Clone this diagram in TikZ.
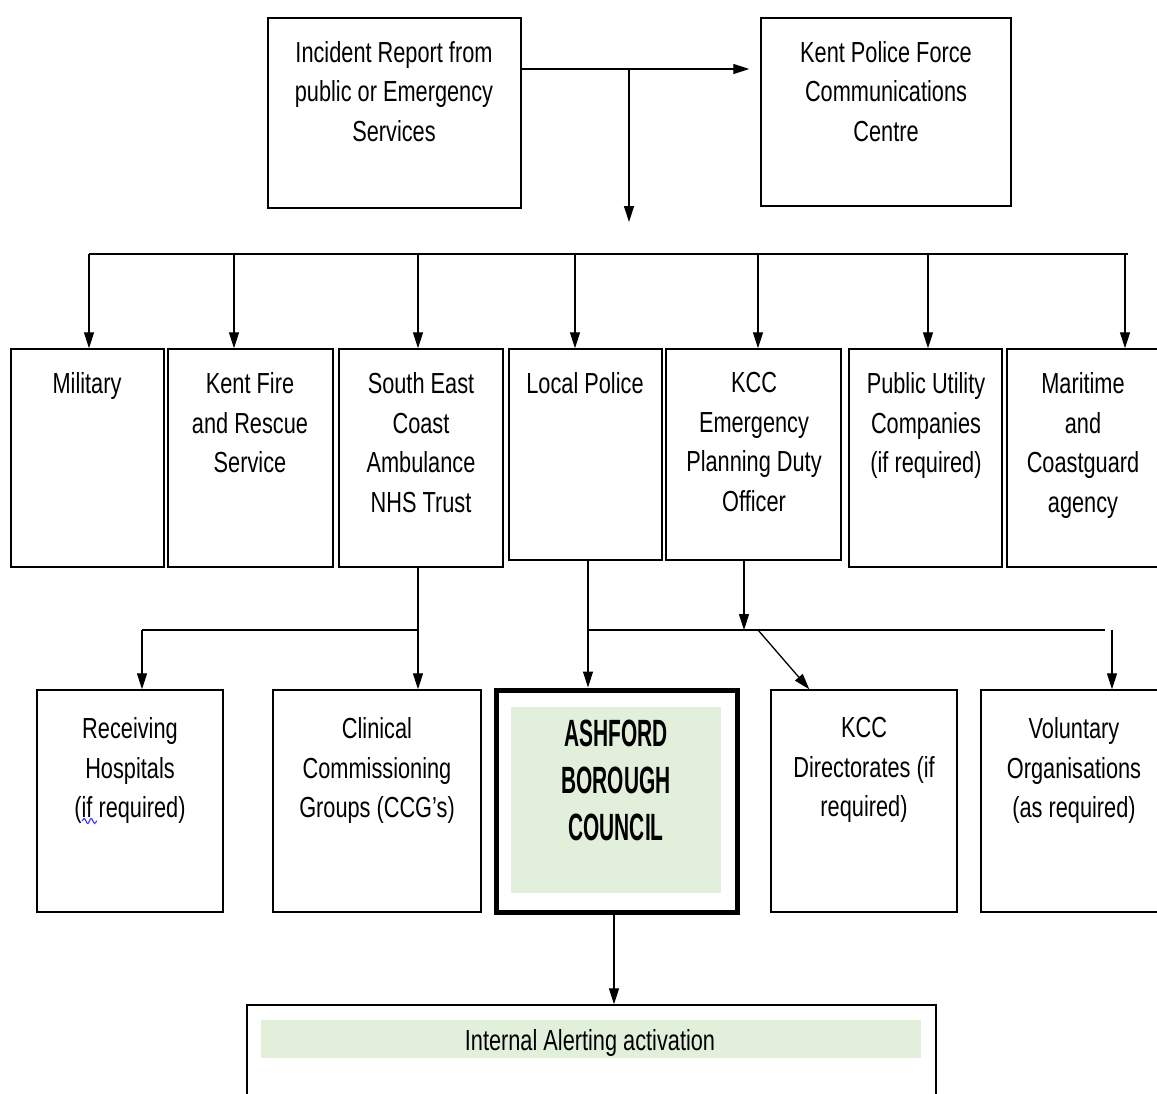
\documentclass[tikz,border=0pt]{standalone}
\usepackage{fontspec}
\setmainfont[FakeStretch=0.75]{Liberation Sans}
\newfontfamily\ashfont[FakeStretch=0.55]{Liberation Sans}
\usetikzlibrary{arrows.meta,decorations.pathmorphing,calc}
\definecolor{lightgreen}{HTML}{E2EFDA}
\begin{document}
\begin{tikzpicture}[x=1pt,y=-1pt,
  box/.style={draw, line width=1.4pt, inner sep=0pt},
  lbl/.style={anchor=north, align=center, font=\fontsize{29}{39.5}\selectfont, inner sep=0pt},
  arr/.style={line width=1.3pt, -{Triangle[length=16pt,width=10pt]}},
  ln/.style={line width=1.3pt}]
\useasboundingbox (0,0) rectangle (1157,1093);

% top row
\node[box, minimum width=253, minimum height=190] (inc) at (394.5,113) {};
\node[box, minimum width=250, minimum height=188] (kp) at (886,112) {};
\node[lbl] (tinc) at (394,41) {Incident Report from\\public or Emergency\\Services};
\node[lbl] (tkp) at (886,41) {Kent Police Force\\Communications\\Centre};

% second row
\node[box, minimum width=153, minimum height=218] (mil) at (87.5,458) {};
\node[box, minimum width=165, minimum height=218] (fire) at (250.5,458) {};
\node[box, minimum width=164, minimum height=218] (sec) at (421,458) {};
\node[box, minimum width=153, minimum height=211] (lp) at (585.5,454.5) {};
\node[box, minimum width=175, minimum height=211] (kcc) at (753.5,454.5) {};
\node[box, minimum width=153, minimum height=218] (util) at (925.5,458) {};
\node[box, minimum width=153, minimum height=218] (mar) at (1083.5,458) {};
\node[lbl] (tmil) at (87,372.5) {Military};
\node[lbl] (tfire) at (250,372.5) {Kent Fire\\and Rescue\\Service};
\node[lbl] (tsec) at (421,372.5) {South East\\Coast\\Ambulance\\NHS Trust};
\node[lbl] (tlp) at (585,372.5) {Local Police};
\node[lbl] (tkcc) at (754,372.5) {KCC\\Emergency\\Planning Duty\\Officer};
\node[lbl] (tutil) at (926,372.5) {Public Utility\\Companies\\(if required)};
\node[lbl] (tmar) at (1083,372.5) {Maritime\\and\\Coastguard\\agency};

% third row
\node[box, minimum width=186, minimum height=222] (recv) at (130,801) {};
\node[box, minimum width=208, minimum height=222] (clin) at (377,801) {};
\node[box, line width=5pt, minimum width=241, minimum height=222] (ash) at (616.5,801) {};
\node[fill=lightgreen, inner sep=0pt, minimum width=210, minimum height=186] (ashin) at (616,800) {};
\node[box, minimum width=186, minimum height=222] (kccd) at (864,801) {};
\node[box, minimum width=186, minimum height=222] (vol) at (1074,801) {};
\node[lbl] (trecv) at (130,717.5) {Receiving\\Hospitals\\(if required)};
\node[lbl] (tclin) at (377,717.5) {Clinical\\Commissioning\\Groups (CCG's)};
\node[lbl, font=\ashfont\bfseries\fontsize{38}{47}\selectfont] (tash) at (616,720) {ASHFORD\\BOROUGH\\COUNCIL};
\node[lbl] (tkccd) at (864,717.5) {KCC\\Directorates (if\\required)};
\node[lbl] (tvol) at (1074,717.5) {Voluntary\\Organisations\\(as required)};
\draw[blue!80, line width=1.1pt, decorate, decoration={snake, amplitude=2.5pt, segment length=7pt}] (82,821) -- (97,821);

% bottom
\node[box, minimum width=689, minimum height=105] (bot) at (591.5,1057.5) {};
\node[fill=lightgreen, inner sep=0pt, minimum width=660, minimum height=38] (botin) at (591,1039) {};
\node[lbl] (tbot) at (590,1029.5) {Internal Alerting activation};

% connectors top
\coordinate (j1) at (629,69);
\coordinate (j2) at (629,222);
\draw[arr, shorten >=11pt] (inc.east |- j1) -- (kp.west |- j1);
\draw[arr] (j1) -- (j2);

% bus
\coordinate (b1) at (89,254);
\coordinate (b2) at (234,254);
\coordinate (b3) at (418,254);
\coordinate (b4) at (575,254);
\coordinate (b5) at (758,254);
\coordinate (b6) at (928,254);
\coordinate (b7) at (1125,254);
\coordinate (bR) at (1128,254);
\draw[ln] (b1) -- (bR);
\draw[arr] (b1) -- (b1 |- mil.north);
\draw[arr] (b2) -- (b2 |- fire.north);
\draw[arr] (b3) -- (b3 |- sec.north);
\draw[arr] (b4) -- (b4 |- lp.north);
\draw[arr] (b5) -- (b5 |- kcc.north);
\draw[arr] (b6) -- (b6 |- util.north);
\draw[arr] (b7) -- (b7 |- mar.north);

% second to third
\coordinate (c0) at (142,630);
\coordinate (c1) at (418,630);
\coordinate (c2) at (588,630);
\coordinate (c3) at (1105,630);
\coordinate (c4) at (744,630);
\coordinate (c5) at (758,630);
\coordinate (c7) at (1112,630);
\draw[arr] (c1 |- sec.south) -- (c1 |- clin.north);
\draw[ln] (c1) -- (c0);
\draw[arr] (c0) -- (c0 |- recv.north);
\draw[arr] (c2 |- lp.south) -- (c2 |- ash.north);
\draw[ln] (c2) -- (c3);
\draw[arr] (c4 |- kcc.south) -- (c4);
\draw[arr] (c5) -- ($(kccd.north west)+(39,0)$);
\draw[arr] (c7) -- (c7 |- vol.north);

% Ashford to bottom
\coordinate (c8) at (614,960);
\draw[arr] (c8 |- ash.south) -- (c8 |- bot.north);
\end{tikzpicture}
\end{document}
